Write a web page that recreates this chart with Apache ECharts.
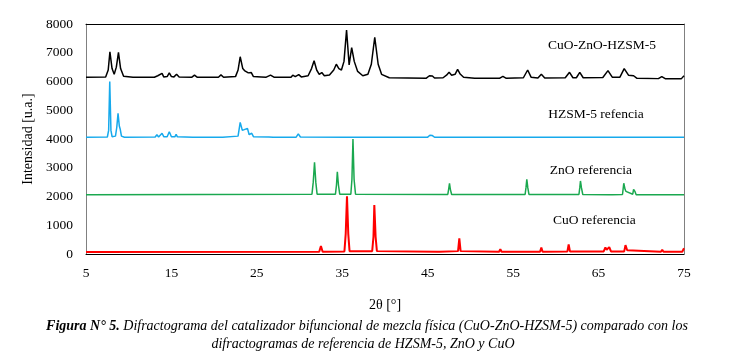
<!DOCTYPE html>
<html>
<head>
<meta charset="utf-8">
<script src="https://cdn.jsdelivr.net/npm/echarts@6/dist/echarts.min.js"></script>
<style>html,body{margin:0;padding:0;background:#fff}#c{width:743px;height:360px}</style>
</head>
<body>
<div id="c"></div>
<script>
// 2θ range and intensity ticks
const xTicks = [5, 15, 25, 35, 45, 55, 65, 75];
const yTicks = [0, 1000, 2000, 3000, 4000, 5000, 6000, 7000, 8000];

// Series names
const seriesNames = ['CuO-ZnO-HZSM-5', 'HZSM-5 refencia', 'ZnO referencia', 'CuO referencia'];

// Caption texts
const captionBold = 'Figura N° 5.';
const captionLine1 = ' Difractograma del catalizador bifuncional de mezcla física (CuO-ZnO-HZSM-5) comparado con los';
const captionLine2 = 'difractogramas de referencia de HZSM-5, ZnO y CuO';

// CuO-ZnO-HZSM-5 pattern [2θ, intensity]
const cuoZnoHzsm5 = [
  [5,6150],[7.3,6160],[7.6,6400],[7.8,7030],[8.05,6450],[8.3,6250],[8.55,6500],[8.8,7010],[9.05,6450],[9.4,6180],
  [10.5,6150],[13.0,6150],[13.4,6200],[13.6,6150],[13.9,6280],[14.1,6160],[14.5,6170],[14.75,6300],[15.0,6170],
  [15.3,6160],[15.6,6250],[15.9,6155],[17.4,6150],[17.7,6220],[18.0,6150],[20.5,6150],[20.8,6230],[21.1,6150],
  [22.5,6170],[22.8,6400],[23.05,6860],[23.35,6450],[23.55,6380],[23.75,6430],[24.0,6300],[24.35,6310],[24.6,6170],
  [25.5,6160],[26.1,6150],[26.6,6220],[27.0,6150],[29.0,6150],[29.2,6220],[29.5,6170],[29.9,6240],[30.2,6160],
  [31.0,6200],[31.4,6450],[31.7,6720],[32.0,6400],[32.3,6250],[32.6,6310],[32.9,6200],[33.5,6230],[34.0,6400],
  [34.3,6600],[34.6,6450],[34.9,6400],[35.2,6700],[35.5,7790],[35.8,6580],[36.1,7180],[36.4,6700],[36.8,6350],
  [37.4,6200],[38.0,6250],[38.4,6600],[38.8,7540],[39.2,6600],[39.6,6250],[40.5,6130],[44.8,6110],[45.2,6200],
  [45.35,6140],[45.55,6190],[45.8,6120],[46.8,6130],[47.2,6220],[47.5,6320],[47.8,6220],[48.0,6200],[48.2,6250],
  [48.5,6420],[48.8,6260],[49.2,6150],[50.5,6110],[53.4,6110],[53.8,6180],[54.2,6110],[56.2,6130],[56.7,6400],
  [57.1,6150],[57.9,6120],[58.3,6250],[58.7,6120],[61.1,6130],[61.6,6320],[62.0,6130],[62.4,6130],[62.8,6320],
  [63.2,6130],[65.5,6140],[66.1,6380],[66.6,6150],[67.5,6150],[68.0,6450],[68.5,6220],[69.1,6200],[69.5,6110],
  [72.0,6100],[72.4,6170],[72.8,6100],[74.7,6100],[75,6200]
];

// HZSM-5 reference pattern
const hzsm5Ref = [
  [5,4060],[7.5,4070],[7.65,4300],[7.78,6000],[7.92,4300],[8.05,4080],[8.45,4100],[8.6,4400],[8.75,4890],[8.9,4450],
  [9.0,4350],[9.15,4100],[9.5,4060],[13.1,4070],[13.3,4150],[13.5,4070],[13.9,4200],[14.1,4080],[14.5,4080],
  [14.75,4250],[15.0,4080],[15.4,4075],[15.55,4160],[15.7,4075],[17.5,4065],[17.7,4120],[17.9,4065],[20.6,4065],
  [20.8,4130],[21.0,4065],[22.8,4100],[23.05,4580],[23.3,4300],[23.5,4250],[23.9,4370],[24.1,4150],[24.4,4200],
  [24.6,4080],[26.4,4070],[26.6,4100],[26.9,4065],[29.6,4065],[29.85,4180],[30.1,4070],[35.5,4060],[45.0,4065],
  [45.25,4130],[45.4,4100],[45.55,4120],[45.8,4060],[75,4060]
];

// ZnO reference pattern
const znoRef = [
  [5,2060],[31.45,2080],[31.6,2500],[31.75,3190],[31.9,2500],[32.05,2080],[34.2,2080],[34.32,2400],[34.42,2860],
  [34.55,2400],[34.7,2080],[36.0,2080],[36.13,2600],[36.25,4000],[36.38,2600],[36.55,2080],[47.35,2070],[47.45,2250],
  [47.55,2460],[47.65,2250],[47.8,2070],[56.4,2070],[56.5,2300],[56.6,2600],[56.72,2300],[56.85,2070],[62.7,2070],
  [62.8,2300],[62.88,2540],[63.0,2300],[63.15,2070],[66.2,2060],[66.4,2120],[66.6,2060],[67.8,2070],[67.95,2460],
  [68.1,2250],[68.2,2180],[69.0,2080],[69.1,2250],[69.25,2180],[69.4,2060],[72.4,2060],[72.55,2090],[72.7,2060],[75,2060]
];

// CuO reference pattern
const cuoRef = [
  [5,70],[32.3,80],[32.5,280],[32.7,80],[35.25,90],[35.4,700],[35.55,2010],[35.7,700],[35.85,100],[38.5,100],
  [38.65,600],[38.75,1700],[38.9,600],[39.05,100],[46.1,80],[46.25,130],[46.4,80],[48.55,100],[48.7,540],[48.85,100],
  [53.35,80],[53.5,170],[53.65,80],[58.15,80],[58.3,220],[58.45,80],[61.35,90],[61.5,330],[61.65,90],[65.6,90],
  [65.8,230],[65.95,150],[66.25,240],[66.45,90],[68.0,90],[68.15,310],[68.35,130],[68.5,90],[72.3,80],[72.45,150],
  [72.6,80],[74.8,80],[75,200]
];

// Label anchors for each pattern [2θ, intensity]
const labelAnchors = [[65.4, 7270], [64.7, 4870], [64.1, 2920], [64.5, 1180]];

const seriesData = [cuoZnoHzsm5, hzsm5Ref, znoRef, cuoRef];
const colors = ['#000000', '#16a9ec', '#1aa84f', '#ff0000'];
const widths = [1.5, 1.5, 1.5, 2];

const serif = '"Liberation Serif", "Times New Roman", serif';
const xMin = xTicks[0], xMax = xTicks[xTicks.length - 1];
const yMin = yTicks[0], yMax = yTicks[yTicks.length - 1];
const capSize = 14;

const chart = echarts.init(document.getElementById('c'));
chart.setOption({
  animation: false,
  backgroundColor: '#ffffff',
  textStyle: { fontFamily: serif },
  graphic: [{
    type: 'text', x: 367, y: 326,
    style: {
      text: '{b|' + captionBold + '}{n|' + captionLine1 + '}',
      align: 'center', verticalAlign: 'middle',
      rich: {
        b: { fontFamily: serif, fontStyle: 'italic', fontWeight: 'bold', fontSize: capSize, fill: '#000' },
        n: { fontFamily: serif, fontStyle: 'italic', fontWeight: 'normal', fontSize: capSize, fill: '#000' }
      }
    }
  }, {
    type: 'text', x: 363, y: 344,
    style: {
      text: captionLine2, align: 'center', verticalAlign: 'middle',
      fontFamily: serif, fontStyle: 'italic', fontSize: capSize, fill: '#000'
    }
  }],
  grid: { left: 86, right: 59, top: 24, bottom: 106 },
  xAxis: [{
    type: 'value', min: xMin, max: xMax, interval: 10,
    name: '2θ [°]', nameLocation: 'middle', nameGap: 44,
    nameTextStyle: { fontFamily: serif, fontSize: 14, color: '#000' },
    axisLine: { show: true, lineStyle: { color: '#000', width: 1 } },
    axisTick: { show: false },
    axisLabel: { fontFamily: serif, fontSize: 13.5, color: '#000', margin: 12 },
    splitLine: { show: false }
  }, {
    type: 'value', min: xMin, max: xMax, position: 'top',
    axisLine: { show: true, onZero: false, lineStyle: { color: '#000', width: 1 } },
    axisTick: { show: false }, axisLabel: { show: false }, splitLine: { show: false }
  }],
  yAxis: [{
    type: 'value', min: yMin, max: yMax, interval: 1000,
    name: 'Intensidad [u.a.]', nameLocation: 'middle', nameGap: 50, nameRotate: 90,
    nameTextStyle: { fontFamily: serif, fontSize: 14, color: '#000' },
    axisLine: { show: true, lineStyle: { color: '#808080', width: 1 } },
    axisTick: { show: false },
    axisLabel: { fontFamily: serif, fontSize: 13.5, color: '#000', margin: 13, formatter: v => String(v) },
    splitLine: { show: false }
  }, {
    type: 'value', min: yMin, max: yMax, position: 'right',
    axisLine: { show: true, onZero: false, lineStyle: { color: '#808080', width: 1 } },
    axisTick: { show: false }, axisLabel: { show: false }, splitLine: { show: false }
  }],
  series: seriesNames.map((name, i) => ({
    name, type: 'line', xAxisIndex: 0, yAxisIndex: 0,
    data: seriesData[i], showSymbol: false, symbol: 'none',
    lineStyle: { color: colors[i], width: widths[i] },
    z: 10 - i,
    markPoint: {
      symbol: 'circle', symbolSize: 0, silent: true,
      data: [{ coord: labelAnchors[i], value: name }],
      label: { show: true, position: 'inside', formatter: name, fontFamily: serif, fontSize: 13.5, color: '#000' }
    }
  }))
});
</script>
</body>
</html>
